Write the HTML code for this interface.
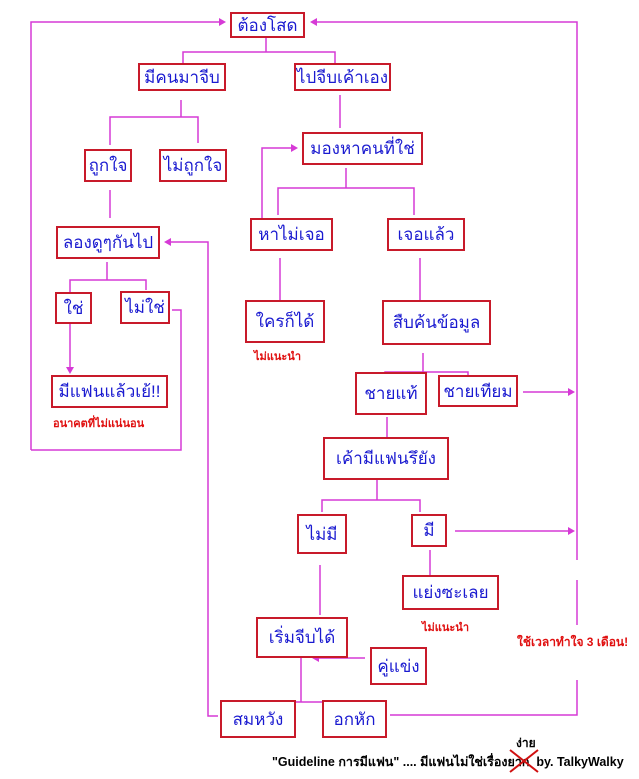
<!DOCTYPE html>
<html><head><meta charset="utf-8"><style>
body{margin:0;width:639px;height:779px;background:#fff;position:relative;overflow:hidden;font-family:"Liberation Sans","Noto Sans CJK SC",sans-serif}
.b{position:absolute;border:2px solid #c81a2a;box-sizing:border-box;color:#1a1ad0;font-size:17px;display:flex;align-items:center;justify-content:center;white-space:nowrap;background:#fff}
.r{position:absolute;color:#e01010;font-size:11px;font-weight:bold;white-space:nowrap}
svg{position:absolute;left:0;top:0}
</style></head><body>
<svg width="639" height="779" stroke="#d63ad6" stroke-width="1.5" fill="none">
<polyline points="31,450 31,22 222,22"/><polygon points="226,22 219,18 219,26" fill="#d63ad6" stroke="none"/>
<polyline points="577,560 577,22 314,22"/><polygon points="310,22 317,18 317,26" fill="#d63ad6" stroke="none"/>
<line x1="577" y1="580" x2="577" y2="625"/>
<polyline points="577,680 577,715 390,715"/>
<polyline points="266,37 266,52"/><polyline points="183,63 183,52 335,52 335,63"/>
<polyline points="181,100 181,117"/><polyline points="110,145 110,117 198,117 198,143"/>
<line x1="110" y1="190" x2="110" y2="218"/>
<polyline points="107,262 107,280"/><polyline points="70,292 70,280 146,280 146,290"/>
<line x1="70" y1="306" x2="70" y2="368"/><polygon points="70,374 66,367 74,367" fill="#d63ad6" stroke="none"/>
<polyline points="172,310 181,310 181,450 31,450"/>
<polyline points="218,716 208,716 208,242 170,242"/><polygon points="164,242 171,238 171,246" fill="#d63ad6" stroke="none"/>
<line x1="340" y1="95" x2="340" y2="128"/>
<polyline points="262,245 262,148 294,148"/><polygon points="298,148 291,144 291,152" fill="#d63ad6" stroke="none"/>
<line x1="346" y1="168" x2="346" y2="188"/><polyline points="278,215 278,188 414,188 414,215"/>
<line x1="280" y1="258" x2="280" y2="300"/><line x1="420" y1="258" x2="420" y2="300"/>
<line x1="423" y1="353" x2="423" y2="372"/><polyline points="385,383 385,372 468,372 468,382"/>
<line x1="523" y1="392" x2="570" y2="392"/><polygon points="575,392 568,388 568,396" fill="#d63ad6" stroke="none"/>
<line x1="387" y1="417" x2="387" y2="437"/>
<line x1="377" y1="480" x2="377" y2="500"/><polyline points="322,512 322,500 420,500 420,512"/>
<line x1="455" y1="531" x2="570" y2="531"/><polygon points="575,531 568,527 568,535" fill="#d63ad6" stroke="none"/>
<line x1="430" y1="550" x2="430" y2="575"/>
<line x1="320" y1="565" x2="320" y2="615"/>
<line x1="365" y1="658" x2="318" y2="658"/><polygon points="312,658 319,654 319,662" fill="#d63ad6" stroke="none"/>
<line x1="301" y1="642" x2="301" y2="702"/><polyline points="257,724 257,702 345,702 345,720"/>
</svg>
<div class="b" style="left:230px;top:12px;width:75px;height:26px">ต้องโสด</div>
<div class="b" style="left:138px;top:63px;width:88px;height:28px">มีคนมาจีบ</div>
<div class="b" style="left:294px;top:63px;width:97px;height:28px">ไปจีบเค้าเอง</div>
<div class="b" style="left:84px;top:149px;width:48px;height:33px">ถูกใจ</div>
<div class="b" style="left:159px;top:149px;width:68px;height:33px">ไม่ถูกใจ</div>
<div class="b" style="left:56px;top:226px;width:104px;height:33px">ลองดูๆกันไป</div>
<div class="b" style="left:55px;top:292px;width:37px;height:32px">ใช่</div>
<div class="b" style="left:120px;top:291px;width:50px;height:33px">ไม่ใช่</div>
<div class="b" style="left:51px;top:375px;width:117px;height:33px">มีแฟนแล้วเย้!!</div>
<div class="r" style="left:53px;top:414px">อนาคตที่ไม่แน่นอน</div>
<div class="b" style="left:302px;top:132px;width:121px;height:33px">มองหาคนที่ใช่</div>
<div class="b" style="left:250px;top:218px;width:83px;height:33px">หาไม่เจอ</div>
<div class="b" style="left:387px;top:218px;width:78px;height:33px">เจอแล้ว</div>
<div class="b" style="left:245px;top:300px;width:80px;height:43px">ใครก็ได้</div>
<div class="r" style="left:254px;top:347px">ไม่แนะนำ</div>
<div class="b" style="left:382px;top:300px;width:109px;height:45px">สืบค้นข้อมูล</div>
<div class="b" style="left:355px;top:372px;width:72px;height:43px">ชายแท้</div>
<div class="b" style="left:438px;top:375px;width:80px;height:32px">ชายเทียม</div>
<div class="b" style="left:323px;top:437px;width:126px;height:43px">เค้ามีแฟนรึยัง</div>
<div class="b" style="left:297px;top:514px;width:50px;height:40px">ไม่มี</div>
<div class="b" style="left:411px;top:514px;width:36px;height:33px">มี</div>
<div class="b" style="left:402px;top:575px;width:97px;height:35px">แย่งซะเลย</div>
<div class="r" style="left:422px;top:618px">ไม่แนะนำ</div>
<div class="b" style="left:256px;top:617px;width:92px;height:41px">เริ่มจีบได้</div>
<div class="b" style="left:370px;top:647px;width:57px;height:38px">คู่แข่ง</div>
<div class="b" style="left:220px;top:700px;width:76px;height:38px">สมหวัง</div>
<div class="b" style="left:322px;top:700px;width:65px;height:38px">อกหัก</div>
<div class="r" style="left:517px;top:633px;font-size:12px">ใช้เวลาทำใจ 3 เดือน!</div>
<div style="position:absolute;left:516px;top:734px;font-size:12px;font-weight:bold">ง่าย</div>
<div style="position:absolute;left:272px;top:752px;font-size:12.5px;font-weight:bold;white-space:nowrap">"Guideline การมีแฟน" .... มีแฟนไม่ใช่เรื่องยาก&nbsp;&nbsp;by. TalkyWalky</div>
<svg width="639" height="779" stroke="#d01010" stroke-width="2"><line x1="510" y1="750" x2="538" y2="772"/><line x1="538" y1="750" x2="510" y2="772"/></svg>
</body></html>
